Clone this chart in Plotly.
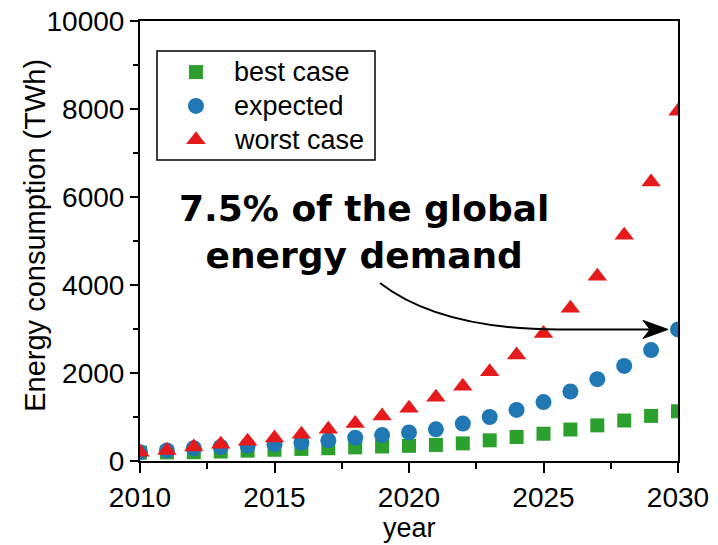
import plotly.graph_objects as go

# Projected electricity use per scenario, 2010-2030 (TWh)
years = list(range(2010, 2031))
best_case = [190, 195, 200, 215, 235, 255, 275, 290, 310, 330, 345,
             365, 400, 470, 545, 620, 715, 810, 920, 1025, 1130]
expected = [200, 240, 290, 320, 350, 380, 420, 470, 530, 590, 650,
            720, 850, 1000, 1160, 1340, 1580, 1860, 2160, 2520, 2990]
worst_case = [200, 240, 320, 380, 450, 520, 610, 720, 850, 1020, 1200,
              1450, 1700, 2030, 2410, 2900, 3470, 4200, 5130, 6340, 7950]

series_names = ["best case", "expected", "worst case"]
x_ticks = [2010, 2015, 2020, 2025, 2030]
y_ticks = [0, 2000, 4000, 6000, 8000, 10000]

SANS = "Liberation Sans, Arial, sans-serif"

styles = [
    dict(symbol="square", size=14, color="#2ca02c"),
    dict(symbol="circle", size=16, color="#1f77b4"),
    dict(symbol="triangle-up", size=17, color="#e41a1c"),
]

fig = go.Figure()
for name, values, marker in zip(series_names, [best_case, expected, worst_case], styles):
    fig.add_trace(go.Scatter(
        x=years, y=values, name=name, mode="markers", marker=marker,
        showlegend=False,
    ))

# Legend key: symbols on a hidden overlay axis (0..1 across the plot area)
key_x = 0.104
key_rows = [0.884, 0.807, 0.730]
for name, marker, ky in zip(series_names, styles, key_rows):
    fig.add_trace(go.Scatter(
        x=[key_x], y=[ky], mode="markers", marker=marker,
        xaxis="x2", yaxis="y2", showlegend=False, hoverinfo="skip",
    ))
    fig.add_annotation(
        text=name, xref="x2", yref="y2", x=0.171, y=ky,
        xanchor="left", yanchor="middle", showarrow=False,
        font=dict(family=SANS, size=27, color="black"),
    )
fig.add_shape(
    type="rect", xref="x2", yref="y2", x0=0.0316, x1=0.4368, y0=0.684, y1=0.932,
    line=dict(color="black", width=1.5), fillcolor="rgba(0,0,0,0)",
)

# Curved pointer from the callout to the 2030 expected value
target_y = expected[-1]
start_x, start_y = 2018.92, 4045
ctrl_x = 2021.15
bend_x = 2025.6
notch_x, back_x, tip_x = 2028.96, 2028.70, 2029.63
head_half = 205

fig.add_shape(
    type="path", xref="x", yref="y",
    path=(f"M {start_x},{start_y} Q {ctrl_x},{target_y} {bend_x},{target_y} "
          f"L {notch_x},{target_y}"),
    line=dict(color="black", width=2),
)
fig.add_shape(
    type="path", xref="x", yref="y",
    path=(f"M {tip_x},{target_y} L {back_x},{target_y + head_half} "
          f"L {notch_x},{target_y} L {back_x},{target_y - head_half} Z"),
    fillcolor="black", line=dict(color="black", width=1),
)

fig.add_annotation(
    text="7.5% of the global<br>energy demand",
    xref="paper", yref="paper", x=0.416, y=0.520,
    xanchor="center", yanchor="middle", showarrow=False, align="center",
    font=dict(family="DejaVu Sans", size=36, color="black", weight="bold"),
)

# Axis titles
fig.add_annotation(
    text="Energy consumption (TWh)", xref="paper", yref="paper",
    x=-0.195, y=0.512, xanchor="center", yanchor="middle", textangle=-90,
    showarrow=False, font=dict(family=SANS, size=29, color="black"),
)
fig.add_annotation(
    text="year", xref="paper", yref="paper",
    x=0.5, y=-0.152, xanchor="center", yanchor="middle",
    showarrow=False, font=dict(family=SANS, size=27, color="black"),
)

axis_common = dict(
    showgrid=False, zeroline=False, showline=True, linecolor="black",
    linewidth=2, mirror=True, ticks="outside", tickcolor="black",
    tickwidth=2, tickfont=dict(family=SANS, size=28, color="black"),
    automargin=False,
)

fig.update_xaxes(
    range=[2010, 2030], tickvals=x_ticks, ticklen=10, tickformat="d",
    minor=dict(dtick=2.5, tick0=2010, ticks="outside", ticklen=6,
               tickwidth=2, tickcolor="black"),
    **axis_common,
)
fig.update_yaxes(
    range=[0, 10000], tickvals=y_ticks, ticklen=8, tickformat="d",
    minor=dict(dtick=1000, tick0=0, ticks="outside", ticklen=5,
               tickwidth=2, tickcolor="black"),
    **axis_common,
)

fig.update_layout(
    width=718, height=545,
    margin=dict(l=140, r=40, t=21, b=84),
    paper_bgcolor="white", plot_bgcolor="white",
    showlegend=False,
    xaxis2=dict(overlaying="x", range=[0, 1], visible=False, fixedrange=True),
    yaxis2=dict(overlaying="y", range=[0, 1], visible=False, fixedrange=True),
)

fig.write_html("out.html")
